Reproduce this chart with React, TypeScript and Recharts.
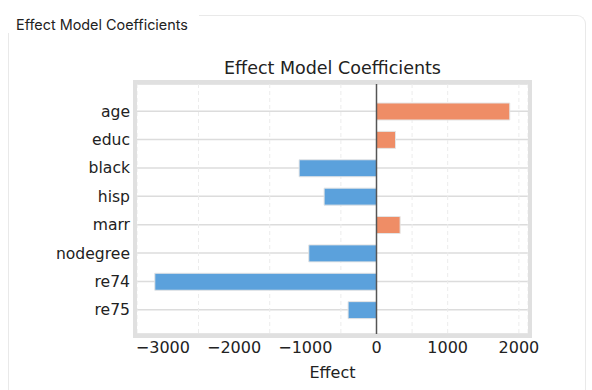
import React from "react";
import { BarChart, Bar, XAxis, YAxis, CartesianGrid, ReferenceLine, Cell } from "recharts";

const features = ["age", "educ", "black", "hisp", "marr", "nodegree", "re74", "re75"];
const effects = [1872, 267, -1087, -736, 332, -951, -3114, -399];
const xTicks = [-3000, -2000, -1000, 0, 1000, 2000];
const minorTicks = [-3000, -2500, -2000, -1500, -1000, -500, 0, 500, 1000, 1500, 2000];
const xDomain = [-3364, 2128];

const data = features.map((f, i) => ({ feature: f, effect: effects[i] }));

const POS = "#EF8D66";
const NEG = "#5BA1DC";
const FONT = "'DejaVu Sans', sans-serif";

export default function App() {
  return (
    <div style={{ position: "absolute", left: 0, top: 0, width: 592, height: 390, background: "#fff", overflow: "hidden" }}>
      {/* card outline */}
      <div style={{ position: "absolute", left: 199, top: 15, width: 387, height: 400, borderTop: "1.5px solid #e9e9e9", borderRight: "1.5px solid #e9e9e9", borderTopRightRadius: 9, boxSizing: "border-box" }} />
      <div style={{ position: "absolute", left: 8, top: 33, width: 0, height: 400, borderLeft: "1.5px solid #e9e9e9" }} />
      <div style={{ position: "absolute", left: 16, top: 16, fontFamily: "Inter, 'Liberation Sans', sans-serif", fontSize: 14.4, color: "#222", whiteSpace: "nowrap" }}>
        Effect Model Coefficients
      </div>
      <div style={{ position: "absolute", left: 0, width: 592, textAlign: "center", paddingLeft: 73, boxSizing: "border-box", top: 58, fontFamily: FONT, fontSize: 17.5, color: "#222" }}>
        Effect Model Coefficients
      </div>
      <div style={{ position: "absolute", left: 0, top: 0 }}>
        <BarChart
          width={592}
          height={390}
          data={data}
          layout="vertical"
          margin={{ top: 84, right: 64, bottom: 26, left: 37 }}
          barSize={17}
        >
          <CartesianGrid horizontal={true} vertical={false} stroke="#dcdcdc" strokeWidth={1.5} />
          <CartesianGrid xAxisId="minor" horizontal={false} vertical={true} stroke="#ececec" strokeDasharray="4 3" strokeWidth={1} />
          <XAxis
            type="number"
            domain={xDomain}
            ticks={xTicks}
            allowDataOverflow
            axisLine={false}
            tickLine={false}
            tickMargin={2}
            height={30}
            tick={{ fontFamily: FONT, fontSize: 16, fill: "#222" }}
            tickFormatter={(v: number) => (v < 0 ? "\u2212" + Math.abs(v) : String(v))}
            label={{ value: "Effect", position: "insideBottom", offset: -14, fontFamily: FONT, fontSize: 16, fill: "#222" }}
          />
          <XAxis
            xAxisId="minor"
            type="number"
            domain={xDomain}
            ticks={minorTicks}
            allowDataOverflow
            hide
          />
          <YAxis
            type="category"
            dataKey="feature"
            width={100}
            axisLine={false}
            tickLine={false}
            tickMargin={1}
            padding={{ top: 13, bottom: 10 }}
            tick={{ fontFamily: FONT, fontSize: 15.6, fill: "#222" }}
          />
          <Bar dataKey="effect" isAnimationActive={false} stroke="#e4e4e4" strokeWidth={1}>
            {data.map((d, i) => (
              <Cell key={i} fill={d.effect >= 0 ? POS : NEG} />
            ))}
          </Bar>
          <ReferenceLine x={0} stroke="#555" strokeWidth={1.5} />
        </BarChart>
      </div>
      {/* axes frame */}
      <div style={{ position: "absolute", left: 133, top: 80, width: 399, height: 258, border: "4px solid #e0e0e0", boxSizing: "border-box", pointerEvents: "none" }} />
    </div>
  );
}
